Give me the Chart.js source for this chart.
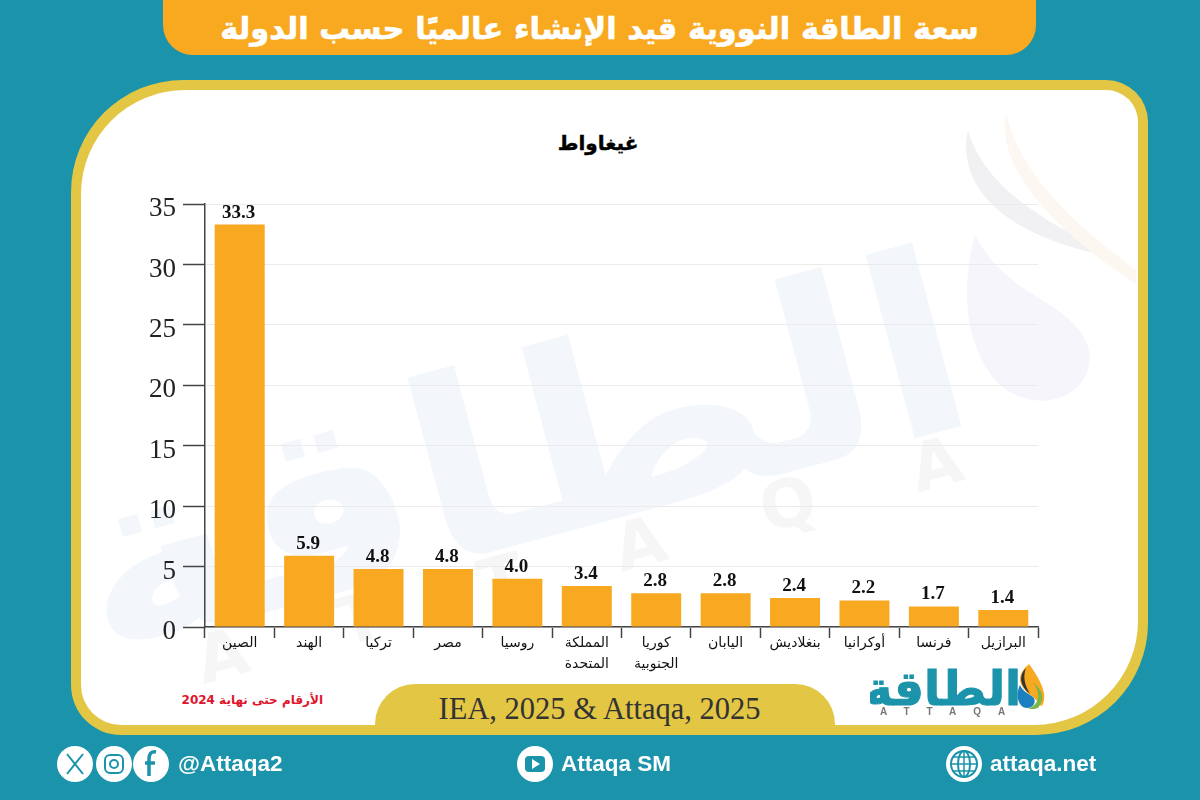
<!DOCTYPE html>
<html lang="ar">
<head>
<meta charset="utf-8">
<title>سعة الطاقة النووية قيد الإنشاء</title>
<script src="https://cdn.jsdelivr.net/npm/chart.js@4"></script>
<style>
  html, body { margin: 0; padding: 0; }
  #page { position: relative; width: 1200px; height: 800px; background: #1b93ab; overflow: hidden; font-family: "DejaVu Sans", sans-serif; }
  #page > * { position: absolute; }
  #banner { left: 163px; top: 0; width: 873px; height: 55px; background: #f9a91f; border-radius: 0 0 30px 30px; color: #fff; font-weight: bold; font-size: 30.5px; line-height: 57px; text-align: center; direction: rtl; white-space: nowrap; -webkit-text-stroke: 0.6px #fff; }
  #frame { left: 71px; top: 80px; width: 1077px; height: 655px; background: #e2c644; border-radius: 112px 42px 112px 50px; }
  #card { left: 81px; top: 90px; width: 1057px; height: 635px; background: #fff; border-radius: 104px 32px 104px 40px; overflow: hidden; }
  #mark { left: 0; top: 0; }
  #pill { left: 375px; top: 684px; width: 460px; height: 41px; background: #e2c644; border-radius: 40px 40px 0 0; text-align: center; font: 30.5px/50px "Liberation Serif", serif; color: #333; text-indent: -11px; white-space: nowrap; }
  #unit { left: 498px; top: 128px; width: 200px; text-align: center; direction: rtl; color: #000; font: bold 20px/30px "DejaVu Sans", sans-serif; -webkit-text-stroke: 0.4px #000; }
  #note { left: 150px; top: 690px; width: 173px; text-align: right; direction: rtl; font: bold 12px/20px "DejaVu Sans", sans-serif; color: #e0142c; white-space: nowrap; }
  #logo { left: 870px; top: 660px; }
  canvas { left: 0; top: 0; }
  .foot { color: #fff; font: bold 22.5px/30px "Liberation Sans", sans-serif; top: 749px; white-space: nowrap; }
</style>
</head>
<body>
<div id="page">
  <div id="banner">سعة الطاقة النووية قيد الإنشاء عالميًا حسب الدولة</div>
  <div id="frame"></div>
  <div id="card"></div>
  <svg id="mark" width="1200" height="800" viewBox="0 0 1200 800">
    <g transform="rotate(-15 560 430)" font-family="DejaVu Sans" font-weight="bold" text-anchor="middle">
      <g transform="translate(514 0) scale(1.1 1)">
        <text x="0" y="530" font-size="250" fill="#f3f6fa" direction="rtl">الطاقة</text>
      </g>
      <text x="595" y="583" font-size="66" fill="#f6f6f6" letter-spacing="100">ATTAQA</text>
    </g>
    <path d="M968 130 C955 190 1010 240 1120 258 C1050 225 985 190 968 130Z" fill="#f1f1f3"/>
    <path d="M1006 113 C995 170 1060 235 1136 284 L1136 270 C1075 225 1020 175 1006 113Z" fill="#fdf7f1"/>
    <path d="M975 235 C960 290 965 350 1000 385 C1030 410 1075 405 1088 370 C1095 345 1080 325 1050 305 C1015 285 990 265 975 235Z" fill="#f5f5fb"/>
  </svg>
  <div id="pill">IEA, 2025 &amp; Attaqa, 2025</div>
  <div id="unit">غيغاواط</div>
  <div id="note">الأرقام حتى نهاية 2024</div>
  <canvas id="chart" width="1200" height="800"></canvas>
  <svg id="logo" width="180" height="62" viewBox="0 0 180 62">
    <text x="73" y="45" text-anchor="middle" font-family="DejaVu Sans" font-weight="bold" font-size="47" fill="#1b93ab" direction="rtl" stroke="#1b93ab" stroke-width="1">الطاقة</text>
    <text x="10" y="55" font-family="Liberation Sans" font-weight="bold" font-size="10" fill="#777" letter-spacing="17">ATTAQA</text>
    <path d="M159 4 C147 14 147 24 159 34 C169 40 167 44 172 46 C178 36 172 22 159 4Z" fill="#f9a91f"/>
    <path d="M156 8 C148 16 150 26 160 34 C154 24 153 16 156 8Z" fill="#333"/>
    <path d="M163 22 C172 30 176 38 168 48 C166 49 162 49 158 49 C171 44 170 32 163 22Z" fill="#7ab648"/>
    <path d="M150 25 C146 33 147 43 153 47 C160 50 167 45 164 38 C160 34 153 32 150 25Z" fill="#1b7fc0"/>
  </svg>
  <svg style="left:0;top:0" width="1200" height="800" viewBox="0 0 1200 800">
    <g fill="#fff">
      <circle cx="75" cy="764" r="18"/><circle cx="114" cy="764" r="18"/><circle cx="151" cy="764" r="18"/>
      <circle cx="535" cy="764" r="18"/><circle cx="964" cy="764" r="18"/>
    </g>
    <g fill="none" stroke="#1b93ab" stroke-width="2">
      <path d="M67 754 L83 774 M83 754 L67 774"/>
      <rect x="105" y="755" width="18" height="18" rx="5"/><circle cx="114" cy="764" r="4"/>
      <path d="M156 752 C150 751 149 755 149 760 L149 776 M145 763 L155 763" stroke-width="3.5"/>
      <rect x="525" y="756" width="20" height="16" rx="4" fill="#1b93ab" stroke="none"/>
      <circle cx="964" cy="764" r="13"/><ellipse cx="964" cy="764" rx="6" ry="13"/>
      <path d="M951 764 L977 764 M953 757 L975 757 M953 771 L975 771 M964 751 L964 777" stroke-width="1.5"/>
    </g>
    <path d="M532 759 L540 764 L532 769Z" fill="#fff"/>
  </svg>
  <div class="foot" style="left:178px">@Attaqa2</div>
  <div class="foot" style="left:561px">Attaqa SM</div>
  <div class="foot" style="left:990px">attaqa.net</div>
</div>
<script>
const countries = ['الصين', 'الهند', 'تركيا', 'مصر', 'روسيا', ['المملكة', 'المتحدة'], ['كوريا', 'الجنوبية'], 'اليابان', 'بنغلاديش', 'أوكرانيا', 'فرنسا', 'البرازيل'];
const capacity = [33.3, 5.9, 4.8, 4.8, 4.0, 3.4, 2.8, 2.8, 2.4, 2.2, 1.7, 1.4];

// values above the bars
const barValues = {
  id: 'barValues',
  afterDatasetsDraw(chart) {
    const ctx = chart.ctx;
    ctx.save();
    ctx.font = 'bold 19px "Liberation Serif"';
    ctx.fillStyle = '#111';
    ctx.textAlign = 'center';
    ctx.textBaseline = 'alphabetic';
    chart.getDatasetMeta(0).data.forEach(function (bar, i) {
      ctx.fillText(capacity[i].toFixed(1), bar.x - 1, bar.y - 7);
    });
    ctx.restore();
  }
};

new Chart(document.getElementById('chart'), {
  type: 'bar',
  data: {
    labels: countries,
    datasets: [{ data: capacity, backgroundColor: '#f9a921', categoryPercentage: 0.72, barPercentage: 1 }]
  },
  plugins: [barValues],
  options: {
    responsive: false,
    animation: false,
    layout: { padding: { left: 140, right: 162, top: 204, bottom: 103 } },
    plugins: {
      legend: { display: false },
      tooltip: { enabled: false }
    },
    scales: {
      x: {
        afterFit(scale) { scale.height = 70; },
        border: { color: '#444', width: 1.5 },
        grid: { offset: true, drawOnChartArea: false, tickLength: 11, tickColor: '#444', tickWidth: 1.5 },
        ticks: {
          color: '#111',
          autoSkip: false,
          maxRotation: 0,
          padding: -5,
          font: { family: '"DejaVu Sans"', size: 14, lineHeight: 1.5 }
        }
      },
      y: {
        min: 0,
        max: 35,
        afterFit(scale) { scale.width = 65; },
        border: { color: '#444', width: 1.5 },
        grid: { color: '#ebebeb', tickLength: 22, tickColor: '#444', tickWidth: 1.5 },
        ticks: {
          stepSize: 5,
          color: '#222',
          padding: 7,
          labelOffset: 5,
          font: { family: '"Liberation Serif"', size: 27 }
        }
      }
    }
  }
});
</script>
</body>
</html>
